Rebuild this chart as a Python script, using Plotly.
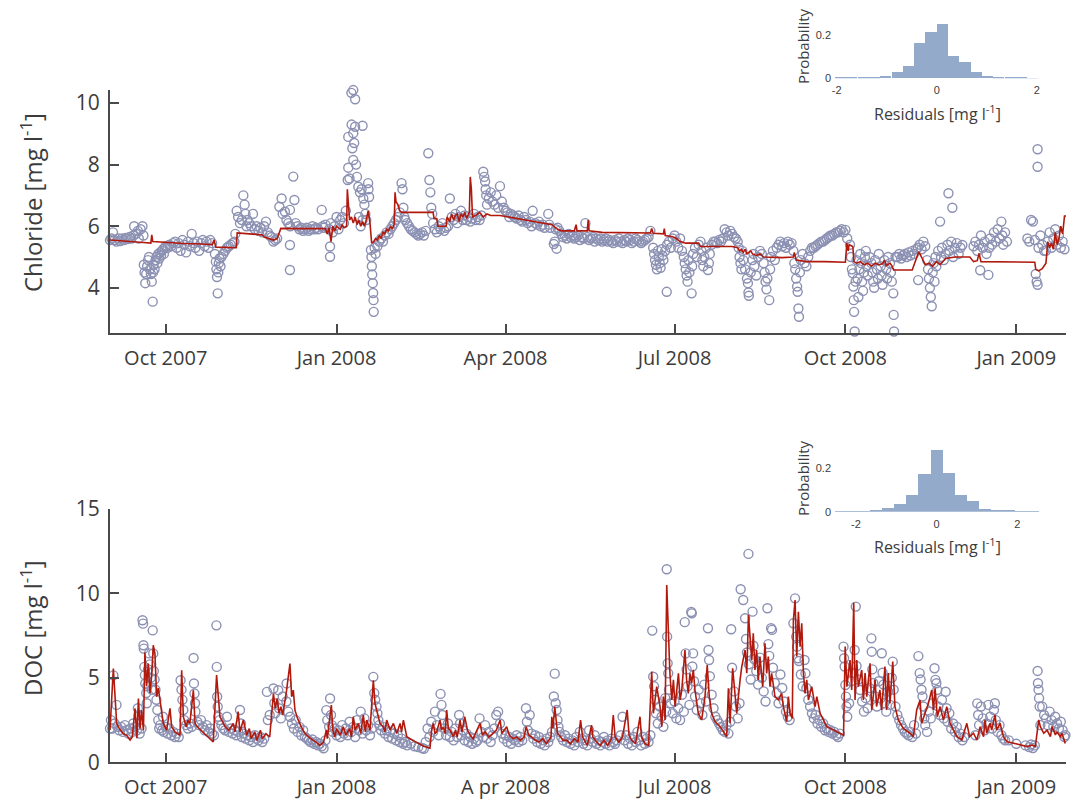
import pandas as pd
import plotly.graph_objects as go

# ---------------- data (day offset from 2007-09-01, value) ----------------
START = "2007-09-01"

cl_obs = [(0,5.55),(0.8,5.6),(1.6,5.8),(2.5,5.55),(3.5,5.5),(4.5,5.6),(5.5,5.52),(6.5,5.6),(7.5,5.55),(8.5,5.62),(9.5,5.58),(10.5,5.65),(11.5,5.6),(12.5,5.7),(13,6.0),(14,5.75),(15,5.85),(15.5,5.6),(16.5,5.9),(17.5,6.0),(18,5.7),
(18.2,4.75),(18.6,4.5),(19,4.15),(19.5,4.45),(20,4.7),(20.5,4.9),(21,5.0),(21.5,4.6),(22,4.45),(22.5,4.2),(23,3.55),(23.2,4.5),(23.5,4.75),(24,4.6),(24.5,4.9),(25,5.0),(25.5,4.8),(26,5.1),(26.5,4.95),(27,5.15),(27.5,5.05),(28,5.2),(28.5,5.25),(29,5.1),(29.5,5.3),(30,5.35),(31,5.3),(32,5.4),(33,5.35),(34,5.45),
(35,5.5),(36,5.3),(37,5.45),(38,5.2),(39,5.55),(40,5.4),(41,5.15),(42,5.5),(43,5.35),(44,5.75),(45,5.45),(46,5.3),(47,5.5),(48,5.2),(49,5.45),(50,5.55),(51,5.35),(52,5.5),(53,5.3),(54,5.55),(55,5.45),
(56.5,5.1),(57,4.85),(57.3,4.6),(57.6,4.35),(58,3.82),(58.3,4.5),(58.6,4.8),(59,4.95),(59.5,4.7),(60,5.0),(61,5.1),(62,5.2),(63,5.3),(64,5.35),(65,5.4),(66,5.45),(67,5.5),(67.5,5.75),
(68.2,6.5),(69,6.3),(70,6.1),(71,6.2),(71.8,7.0),(72.5,6.7),(73,6.4),(73.5,6.0),(74,6.2),(75,6.1),
(76,6.0),(77,6.4),(78,5.9),(79,6.0),(80,5.85),(81,5.95),(82,5.8),(83,6.0),(84,6.15),(85,5.8),(86,5.7),(87,5.65),(88,5.5),(89,5.55),(90,5.6),
(91.2,6.63),(92.4,6.9),(93,6.4),(94.2,6.47),(95,6.2),(96,6.1),(96.9,6.53),(97,6.0),(96.9,5.39),(96.9,4.58),(98.7,7.61),(99.3,6.85),(100,6.1),
(101,6.0),(102,5.9),(103,5.95),(104,5.85),(105,5.9),(106,5.95),(107,5.85),(108,5.9),(109,6.0),(110,5.9),(111,5.95),(112,5.9),(114,6.53),(114.5,6.0),(115,5.95),(116,6.05),(118.5,5.34),(118.5,5.01),(118,5.9),(119,6.1),(120,5.8),(121,6.0),(122,6.3),(123,5.9),(124,6.2),(125,6.3),(126,6.1),
(127,6.5),(128,7.5),(128.3,7.9),(128.3,8.9),(129,7.55),(130,10.33),(130.1,9.3),(130.5,8.53),(131,10.42),(131,9.02),(131,8.15),(131.5,8.7),(132,10.12),(132,9.23),(132.5,8.0),(133,7.6),(133.7,7.28),(134.6,7.1),(135.5,7.2),(136,9.26),(136.4,6.9),(137,6.7),(137.5,6.4),(138,6.2),(139,7.4),(139.2,7.2),(139.5,6.95),(134,6.3),(135,6.0),(136,6.2),
(140.5,5.23),(140.8,5.0),(141,4.7),(141.2,4.43),(141.5,4.15),(141.7,3.83),(141.9,3.6),(142,3.22),(142.5,5.3),(143,5.1),
(144,5.35),(145,5.5),(146,5.6),(147,5.5),(148,5.7),(149,5.8),(150,5.75),(151,5.9),(152,6.0),(153,6.1),(154,6.2),(155,6.3),(156,6.45),(157,7.4),(157.5,7.2),(158,6.6),(158.5,6.3),
(159,6.2),(160,6.1),(161,6.0),(162,5.9),(163,5.85),(164,5.8),(165,5.75),(166,5.7),(167,5.75),(168,5.8),(169,5.7),(170,5.85),
(171.4,8.37),(172,7.5),(172.5,7.1),(173,6.6),(173.5,6.4),(174,6.1),(175,5.9),
(176,5.8),(177,6.0),(178,5.9),(179,6.1),(180,5.85),(181,5.95),(182,6.0),(183,6.9),(184,6.3),(185,6.2),(186,6.4),(187,6.1),(188,6.3),(189,6.5),(190,6.2),(191,6.35),(192,6.2),(193,6.3),(194,6.15),(195,6.25),(196,6.4),(197,6.2),(198,6.3),(199,6.2),(200,6.35),
(201,7.77),(201.5,7.6),(202,7.45),(202.3,7.2),(202.6,7.0),(203,6.7),(204,6.9),(205,7.1),(206,6.8),(207,6.7),(208,7.0),(209,6.6),(210,7.3),(211,6.8),(212,6.6),(213,6.5),
(214,6.45),(215,6.3),(216,6.4),(217,6.35),(218,6.3),(219,6.25),(220,6.35),(221,6.2),(222,6.15),(223,6.3),(224,6.2),(225,6.1),(226,6.15),(227,6.0),(227.6,6.5),(229,6.1),(230,6.05),(231,6.15),(232,6.0),(233,6.05),(234,5.95),(236,6.4),(236.5,6.05),(237,5.95),(239,5.42),(240.5,5.27),(239.5,5.5),(240,5.9),(241,5.95),(242,5.85),
(243,5.75),(244,5.65),(245,5.7),(246,5.6),(247,5.75),(248,5.65),(249,5.7),(250,5.6),(251,5.65),(252,5.7),(253,5.55),(254,5.65),(255,5.6),(256,6.1),(257,5.65),(258,5.55),(259,5.6),(260,5.65),(261,5.5),(262,5.6),(263,5.55),(264,5.6),(265,5.5),(266,5.55),(267,5.6),(268,5.5),(269,5.55),(270,5.5),(271,5.45),(272,5.55),(273,5.5),(274,5.6),(275,5.5),(276,5.45),(277,5.55),(278,5.5),(279,5.6),(280,5.55),(281,5.45),(282,5.5),(283,5.6),(284,5.55),(285,5.5),(286,5.45),(287,5.5),(288,5.55),(289,5.6),(290,5.65),(291,5.85),
(292.5,5.3),(293,5.1),(293.5,4.9),(294,4.75),(294.5,4.6),(295,5.2),(295.5,5.0),(296,4.8),(296.5,4.65),(297,5.25),(297.5,5.05),(298,4.9),(299,5.2),(299.8,3.87),(300,5.4),(301,5.5),(302,5.3),(303,5.6),
(304,5.7),(305,5.5),(306,5.3),(307,5.6),(308,5.2),(309,5.0),(309.5,4.8),(310,4.6),(310.5,4.4),(311,4.2),(311.5,4.9),(312,4.5),(313.2,3.82),(313.5,4.7),(314,5.1),(315,5.3),(316,5.0),(317,5.4),
(318,5.5),(318.5,5.2),(319,4.9),(319.5,4.7),(320,5.0),(321,5.3),(322,4.58),(322.5,4.8),(323,5.1),(324,5.4),(325,5.5),
(326,5.5),(327,5.45),(328,5.55),(329,5.5),(330,5.6),(331,5.9),(332,5.8),(333,5.7),(334,5.85),(335,5.75),(336,5.65),(337,5.6),(338,5.5),
(338.5,5.3),(339,5.0),(339.5,4.8),(340,4.6),(340.5,5.2),(341,4.9),(342,4.6),(343,4.3),(343.5,4.15),(343.8,3.85),(344,3.74),(345,4.5),(346,4.9),(346.5,5.1),(347,4.7),(348,4.4),(349,5.0),(350,5.2),
(351,5.1),(352,4.8),(352.5,4.5),(353,4.2),(353.5,3.95),(354,4.3),(355,3.6),(355.5,4.6),(356,5.0),(357,5.2),(358,4.9),(359,5.3),
(360,5.4),(361,5.5),(362,5.35),(363,5.45),(364,5.3),(365,5.5),(366,5.4),(367,5.45),(368,5.2),
(368.5,4.8),(369,4.6),(369.5,4.3),(370,4.04),(370.3,3.87),(370.7,3.33),(371,3.06),(371.5,4.5),(372,4.9),(373,5.1),(374,4.8),(375,4.7),(376,5.0),(377,5.2),(378,5.3),
(379,5.3),(380,5.35),(381,5.4),(382,5.45),(383,5.5),(384,5.5),(385,5.55),(386,5.6),(387,5.65),(388,5.7),(389,5.7),(390,5.75),(391,5.8),(392,5.8),(393,5.85),(394,5.9),(395,5.8),(396,5.88),(397,5.6),
(398.5,5.4),(399,5.0),(399.5,4.6),(400,4.47),(400.3,4.04),(400.5,3.6),(400.7,3.22),(401,2.58),(401.5,4.2),(402,4.9),(402.5,4.3),(403,3.7),(403.5,4.6),(404,5.1),
(404.5,4.8),(405,4.2),(405.5,3.9),(406,4.5),(406.5,5.0),(407,5.2),(407.5,4.7),(408,4.4),(409,5.0),
(410,4.8),(410.5,4.5),(411,4.2),(411.5,4.0),(412,4.9),(413,4.6),(413.5,4.3),(414,5.1),(415,4.7),(415.5,4.4),(416,4.1),(417,4.9),(418,4.6),(418.5,4.3),(419,5.0),(420,4.8),(420.5,4.5),(421,4.2),(421.8,3.82),(422,3.12),(422.2,2.58),(423,5.0),
(424,5.0),(425,5.1),(426,4.95),(427,5.05),(428,5.1),(429,5.0),(430,5.15),(431,5.05),(432,5.2),(433,5.1),(434,5.25),
(435,5.3),(435.2,4.25),(436,5.4),(437,5.25),(438,5.5),(439,5.35),
(440,4.9),(440.5,4.6),(441,4.3),(441.5,4.0),(442,3.7),(442.5,3.4),(443,4.5),(443.5,4.8),(444,4.2),(444.5,5.0),(445,4.7),
(446,5.2),(447,6.15),(447.5,5.0),(448,5.3),(449,4.9),(450,5.1),(451,5.4),(451.5,7.07),(452,5.2),(453,5.5),(453.6,6.6),(454,5.0),(455,5.3),(456,5.45),(457,5.1),(458,5.3),(459,5.39),
(465,5.35),(466,5.5),(467,5.2),(468,5.4),(468.6,4.57),(469,5.7),(470,5.3),(471,5.5),(472,5.1),(473,4.42),(473.5,5.3),(474,5.6),(475,5.4),(476,5.8),(477,5.5),(478,5.9),(479,5.6),(480,6.15),(480.5,5.7),(481,5.4),(482,5.8),(483,5.5),
(494,5.6),(495,5.5),(496,6.2),(497,6.15),(498,5.55),(498.5,4.45),(499,4.2),(499.5,4.1),(499.5,8.5),(499.5,7.93),(500,5.3),(501,5.7),(502,5.4),(503,5.2),
(504,5.2),(505,5.5),(506,5.8),(507,5.3),(508,5.6),(509,5.9),(510,5.4),(511,5.7),(512,5.3),(513,5.5),(514,5.25)]

cl_mod = [(0,5.55),(16,5.5),(18,5.47),(22,5.45),(22.5,5.72),(23,5.5),(30,5.47),(40,5.44),(50,5.42),(55,5.4),(56,5.55),(57,5.32),(68,5.3),(68.5,5.78),(75,5.75),(82,5.72),(83,5.65),(88,5.55),(90,5.6),(92,5.93),(100,5.92),(110,5.92),(116,5.92),(117,5.75),(118,5.95),(119,5.5),(120,6.0),(121,5.85),(122,6.0),(124,5.9),(125,6.05),(126,5.95),(127.4,6.0),(127.8,7.2),(128.4,6.5),(129,6.2),(130,6.3),(131,6.1),(132,6.3),(133,6.05),(134,6.2),(135,6.0),(136,6.15),(137,6.0),(138,6.2),(139,6.5),(140,6.1),(140.9,5.45),(142,5.5),(143,5.6),(144,5.55),(145,5.7),(146,5.6),(147,5.8),(148,5.75),(149,5.9),(150,5.85),(151,6.0),(152,5.9),(153,6.05),(153.5,7.1),(154,6.8),(155,6.7),(156,6.5),(157,6.45),(174,6.45),(174.5,6.25),(176,6.25),(176.5,6.0),(181,6.0),(181.5,6.3),(183,6.15),(184,6.4),(185,6.2),(186,6.35),(187,6.4),(188,6.15),(189,6.4),(190,6.3),(191,6.45),(192,6.25),(193.5,6.45),(194,7.6),(194.6,7.2),(195.2,6.3),(197,6.35),(199,6.45),(201,6.3),(203,6.4),(205,6.35),(210,6.35),(215,6.3),(220,6.25),(225,6.2),(230,6.15),(235,6.1),(238,6.05),(241,5.9),(243,5.85),(250,5.85),(251,6.05),(251.5,5.85),(257,5.85),(257.5,6.2),(258,5.85),(265,5.8),(275,5.8),(291,5.78),(291.7,5.93),(292.5,5.77),(298,5.75),(298.5,5.92),(299,5.7),(303,5.66),(305,5.6),(307,5.5),(310,5.45),(317,5.45),(318,5.34),(335,5.34),(338,5.3),(339,5.2),(340,5.25),(341,5.15),(342,5.25),(343,5.1),(345,5.2),(346,5.1),(348,5.05),(350,5.1),(352,5.0),(362,4.98),(368,5.0),(368.5,5.15),(369.5,4.9),(375,4.85),(385,4.85),(396,4.83),(396.8,5.45),(397.5,5.2),(398,5.4),(400,5.34),(400.6,4.85),(402,4.8),(404,4.85),(406,4.75),(408,4.8),(410,4.7),(412,4.8),(414,4.75),(416,4.78),(417,4.9),(418,4.72),(420,4.8),(421,4.72),(422,4.58),(432,4.58),(434,4.9),(435.5,5.17),(437,5.0),(439,4.75),(441,4.8),(443,4.7),(445,4.85),(447,4.75),(450,4.95),(455,5.0),(463,5.0),(465,4.85),(467,4.88),(468,5.12),(469,4.85),(480,4.85),(498,4.83),(498.5,4.6),(500,4.55),(502,4.62),(504,4.8),(505,5.5),(506,5.3),(507,5.45),(508,5.25),(509,5.8),(510,5.4),(511,5.6),(512,6.0),(513,5.75),(514,6.33),(515,6.33)]

doc_obs = [(0,2.0),(0.5,2.5),(1.2,2.0),(1.8,5.15),(2.5,2.3),(3.5,3.4),(4,2.1),(5,1.9),(6,2.1),(7,1.8),(8,2.2),(9,1.9),(10,1.7),(11,2.0),(12,1.8),(12.5,2.3),(13.5,2.1),(14.5,1.9),(15,3.2),(15.5,2.8),(16,1.7),(17,2.0),
(17.5,8.41),(17.8,8.21),(18,6.93),(18.2,6.73),(18.5,5.65),(18.8,5.16),(19,4.67),(19.5,4.1),(19.8,3.5),(20,4.5),(20.5,5.5),(21,6.45),(21.5,5.8),(22,5.0),(22.5,4.3),(23,7.81),(23.3,6.45),(23.6,5.4),(24,4.9),(24.5,4.3),(25,3.7),(25.5,3.1),(26,2.5),(26.5,2.0),
(27,2.2),(28,1.9),(28.5,2.7),(29,1.8),(30,2.1),(31,1.7),(32,2.0),(33,1.6),(34,1.8),(35,1.5),(36,1.7),(37,1.5),
(38,4.86),(38.5,4.3),(39,3.7),(39.5,3.1),(40,2.5),(41,2.2),(42,2.0),(43,2.3),(44,2.1),(45,6.18),(45.2,4.67),(45.5,4.07),(45.8,3.5),(46,3.0),(47,2.4),(48,2.2),(49,2.5),(50,2.1),(51,1.9),(52,2.2),(53,1.8),(54,2.0),(55,1.7),(56,1.6),
(57.3,8.11),(57.5,5.65),(57.7,3.88),(58,3.29),(58.3,2.7),(59,2.5),(60,2.2),(61,2.0),(62,1.9),(63,2.7),(64,1.8),(65,2.0),(66,1.7),(67,1.9),(68,1.6),(69,1.8),(70,3.1),(70.5,2.3),(71,1.5),(72,1.7),(73,1.4),(74,1.6),(75,1.3),(76,1.5),(77,1.2),(78,1.6),(79,1.4),(80,1.3),(81,1.5),(82,1.2),(83,1.4),
(84.5,4.17),(85,2.5),(86,2.8),(88,4.37),(88.5,3.5),(89,2.9),(90.6,4.27),(91,3.2),(92,2.6),(93,3.9),(95.1,4.67),(95,3.6),(96,3.0),(97,2.7),(98,2.3),(99,2.0),(100,2.5),(101,1.8),(102,2.1),(103,1.6),(104,1.9),(105,1.5),(106,1.4),(107,1.3),(108,1.2),(109,1.35),(110,1.1),(111,1.2),(112,1.0),(113,1.1),(114,0.95),(115,0.83),(116,1.3),(116.5,3.09),(117,2.5),(118,2.1),(118.5,3.78),(119,2.8),(119.5,2.2),(120,1.8),(121,2.0),(122,1.6),(123,1.9),(124,1.5),(125,2.2),(126,1.7),(127,2.0),(128,1.6),(129,2.4),(130,1.8),(131,2.1),(132,1.5),(133,2.5),(134,1.9),(135,3.0),
(136,1.7),(137,2.6),(138,1.9),(139,2.2),(140,1.6),(141,2.0),
(141.8,5.06),(142.3,4.1),(142.8,3.7),(143.5,3.3),(144,2.9),(144.5,2.5),(145,2.2),(146,1.9),(147,2.1),(148,1.7),(149,1.9),(150,1.5),(151,1.8),(152,1.4),(153,1.7),(154,1.3),(155,1.6),(156,1.2),(157,1.4),(158,1.1),(159,1.2),(160,1.0),(162,1.1),(164,0.95),(166,0.9),(168,0.85),(169,0.8),
(170,1.2),(171,2.0),(172,1.5),(173,2.4),(174,1.8),(175,3.0),(176,2.2),(177,1.6),(178,4.05),(178.5,3.4),(179,2.8),(180,2.0),(181,1.6),(182,2.3),(183,1.5),
(184,1.8),(185,1.3),(186,2.0),(187,1.5),(188,2.8),(188.5,2.3),(189,1.6),(190,1.9),(191,1.3),(192,1.7),(193,1.2),(194,1.5),(195,1.1),(196,1.4),(197,1.2),
(198,1.3),(199,2.6),(200,1.8),(201,1.5),(202,2.2),(203,1.4),(204,1.8),(205,1.2),(206,1.6),(207,2.0),(208,2.8),(209,3.0),(210,2.3),(211,1.7),(212,1.4),
(213,1.6),(214,1.2),(215,1.5),(216,1.1),(217,1.4),(218,1.3),(219,1.6),(220,1.2),(221,1.5),(222,1.3),
(224,3.2),(224.5,2.4),(225,1.9),(226,2.8),(227,1.7),(228,1.4),(229,1.6),(230,1.2),(231,1.5),(232,1.1),(233,1.3),(234,1.0),(235,1.4),(236,1.2),(237,1.5),(238,1.8),
(239,3.9),(239.5,5.25),(240,3.5),(240.5,3.1),(241,2.5),(241.5,2.1),(242,1.8),
(243,1.5),(244,1.3),(245,1.6),(246,1.2),(247,1.4),(248,1.1),(249,1.3),(250,1.0),(251,1.5),(252,1.2),(253,1.8),(254,1.4),(255,1.1),(256,1.3),(257,1.0),(258,1.9),(259,1.4),(260,1.2),(261,1.6),(262,1.1),(263,1.3),(264,1.0),(265,1.2),(266,1.5),(267,1.1),(268,1.3),(269,1.0),(270,1.4),(271,1.2),(272,1.1),(273,1.3),(275,1.6),(276,2.7),
(277,1.3),(278,1.6),(279,1.1),(280,1.4),(281,1.0),(282,1.5),(283,1.2),(284,1.8),(285,1.3),(286,1.0),(287,1.5),(288,1.1),(289,1.4),(290,1.2),(291,1.6),
(292,7.8),(292.5,5.07),(293,4.5),(293.5,3.7),(294,2.9),(295,2.3),(296,3.3),(297,2.7),(298,2.1),(299,3.8),(299.5,3.0),
(299.8,11.43),(300,7.44),(300.3,5.86),(300.6,5.27),(301,4.3),(302,3.5),(303,2.9),(304,3.6),(305,2.6),(306,3.2),(307,2.5),(308,4.0),(309,3.0),(309.5,8.3),(310,6.45),(310.5,5.5),(311,4.5),(312,3.4),(313,8.9),(313.3,8.82),(313.6,5.67),(314,6.45),(314.5,4.8),(315,3.9),(316,3.1),(317,4.3),(318,3.5),(319,2.8),(320,4.6),(321,3.6),(322,7.94),(322.3,6.65),(322.6,6.06),(323,5.1),(324,4.0),(325,3.2),(326,2.7),(327,2.5),(328,2.3),(329,2.1),(330,1.9),(331,1.8),(332,2.2),(333,1.7),(334,2.4),(334.5,7.88),(335,5.6),(336,4.2),(337,3.3),(338,2.6),(339,3.5),
(339.6,10.25),(341,9.61),(342,8.53),(342.5,7.3),(343,6.5),(343.8,12.34),(344,5.8),(345,4.9),(346,8.92),(346.5,6.9),(347,6.1),(348,5.4),(349,4.6),(350,6.2),(351,5.0),(352,4.2),(353,3.6),(354,9.12),(354.5,7.0),(355,6.3),(356,7.94),(356.5,7.84),(357,5.6),(358,4.7),(359,4.1),(360,3.5),(361,5.2),(362,4.4),(363,3.6),(364,3.0),(365,2.7),(366,2.5),
(368,8.23),(368.9,9.71),(369.5,7.44),(370,6.85),(370.5,6.16),(371,6.0),(372,5.2),(373,4.5),(374,6.06),(374.5,5.27),(375,4.4),(376,3.7),(377,3.3),(378,2.9),(379,2.6),(380,2.8),(381,2.3),(382,2.5),(383,2.1),(384,2.3),(385,1.9),(386,2.0),(387,1.8),(388,1.9),(389,1.7),(390,1.8),(391,1.6),(392,1.5),(393,1.7),
(395,6.85),(395.3,6.16),(395.6,5.67),(396,4.58),(396.3,3.89),(396.6,3.3),(397,2.7),(398,3.5),(399,4.8),(400,5.3),(401,6.65),(401.6,9.22),(402,5.7),(403,4.9),(404,4.28),(405,3.6),(406,3.0),
(407,3.8),(408,3.2),(409,4.4),(410,7.34),(410.2,6.55),(410.5,5.5),(411,4.7),(412,3.9),(413,3.3),(414,4.8),(415,3.8),(415.6,6.46),(416,5.3),(416.5,4.6),(417,3.5),(418,3.0),(419,4.2),(420,3.4),(421,5.0),(421.5,5.96),(422,4.3),(423,3.3),(424,2.8),(425,2.5),(426,2.2),(427,2.0),(428,1.8),(429,1.7),(430,1.6),(431,1.8),(432,1.5),(433,2.2),(434,1.7),
(435.3,6.29),(436,5.28),(436.5,4.9),(437,4.3),(437.5,3.9),(438,3.3),(438.5,2.6),(439,2.2),(440,1.8),(441,3.0),(442,2.6),(443,3.5),(444,5.57),(444.5,4.88),(445,4.68),(445.5,4.28),(446,3.3),(447,2.8),(448,3.7),(449,2.6),(450,4.18),(450.5,3.2),(451,2.4),(452,2.9),(453,2.0),(454,2.3),(455,1.8),(456,2.1),(457,1.5),(458,1.7),(459,1.3),(460,1.5),
(466,1.6),(467,3.49),(467.5,2.8),(468,2.2),(469,3.3),(470,2.6),(471,1.9),(472,2.3),(473,3.4),(474,2.7),(475,2.0),(476,3.1),(476.5,3.5),(477,2.5),(478,1.8),(479,2.2),(480,1.6),(481,1.4),(482,1.3),
(484,1.3),(488,1.1),(493,1.0),(495,0.9),(496,1.05),(497,0.85),(498,1.0),
(499.5,5.41),(499.7,4.68),(500,4.3),(500.3,3.8),(500.6,3.3),(501,2.2),(502,3.3),(503,2.8),(504,2.6),(505,2.2),(506,3.0),(507,2.5),(508,2.1),(509,2.7),(510,2.3),(511,2.0),(512,2.4),(513,1.9),(514,1.5),(514.5,1.6)]

doc_mod = [(0,1.91),(1.8,5.55),(3.6,2.3),(5,2.0),(7,1.7),(9,1.6),(10.8,1.32),(12,1.5),(13.5,3.19),(14.5,1.42),(15.3,3.78),(16.2,2.01),(17,3.1),(18,1.9),(18.8,6.5),(19.7,4.5),(20.6,5.85),(21.5,4.1),(22.4,5.1),(23.3,6.93),(24.2,6.44),(25.1,3.88),(26,4.4),(27,3.5),(28.7,2.3),(30.5,1.91),(32.3,3.19),(33.2,2.1),(35,1.8),(37.7,1.6),(38.6,5.45),(39.5,2.7),(41,2.1),(41.9,2.5),(43,2.3),(44.9,4.27),(45.8,2.3),(47,2.1),(50,1.8),(53,1.5),(55.6,1.2),(57.4,5.16),(59.2,2.7),(62,2.1),(64,1.9),(66.4,2.3),(67.3,1.8),(69,3.0),(70,1.8),(71.8,2.5),(73.6,1.6),(75,2.0),(76,1.4),(78,1.8),(79,1.3),(81,1.9),(82,1.4),(84,1.7),(86,1.5),(88,4.07),(89,3.2),(90,3.78),(91,2.9),(92,3.29),(93,2.8),(95.1,4.27),(96.9,5.85),(97.8,3.88),(98.7,4.27),(99.6,3.09),(101,2.6),(103,2.1),(105,1.7),(108,1.4),(111,1.2),(113,1.0),(115,1.2),(116.5,1.91),(117,1.4),(119.2,3.39),(120,1.91),(121,1.5),(122,2.0),(124,1.6),(125.6,2.1),(127,1.6),(129,2.0),(130,1.5),(131,2.7),(132,1.9),(133.7,2.3),(135,1.7),(136.4,2.8),(137.5,1.8),(138.3,2.5),(140,1.9),(141.8,4.86),(142.7,3.48),(143.6,3.09),(144.5,2.6),(145.4,2.3),(147.2,2.1),(148,1.8),(149,2.5),(150.8,1.91),(152.6,2.3),(154.4,1.71),(156.2,2.3),(157,1.8),(158,2.5),(159.8,1.52),(163,1.3),(166,1.1),(169,0.95),(172.3,0.83),(173.2,1.91),(174.1,2.3),(175,1.7),(175.9,1.8),(177.7,2.5),(178.5,1.9),(179.5,2.1),(180.5,1.7),(181.3,3.09),(182.2,2.0),(183.1,1.91),(184.9,1.52),(186,1.9),(187,1.5),(188.5,2.5),(189.5,1.8),(191,2.7),(192.5,1.9),(194,1.6),(195.5,1.4),(197,1.8),(199.3,2.3),(200.5,1.6),(202,1.8),(204,1.5),(206,1.7),(208,1.9),(210.1,2.5),(211,1.7),(213.6,2.1),(215,1.6),(217,1.4),(219,1.5),(221,1.3),(223,1.5),(224.1,2.11),(225.5,1.6),(227,1.5),(229,1.3),(231,1.2),(233,1.4),(235,1.1),(237.5,1.5),(237.9,2.7),(238.5,2.0),(239.5,3.29),(240.3,2.5),(241,1.7),(242,1.6),(244,1.3),(246,1.3),(248,1.1),(250,1.4),(252,1.2),(253.4,2.5),(254.5,1.5),(256,1.2),(257,1.0),(259.3,2.2),(260,1.5),(262,1.2),(264,1.0),(266,1.3),(268,1.0),(270,1.4),(271,2.8),(272,1.5),(274,1.2),(276,1.5),(278.5,3.1),(279.5,1.6),(281,1.3),(283,1.1),(285.4,2.7),(286.2,1.5),(288,1.1),(290,1.0),(291.7,5.37),(292.6,2.9),(294.4,4.48),(296.2,3.3),(297.1,2.11),(298,3.89),(298.9,2.51),(299.8,10.5),(300.6,7.44),(301.5,5.27),(302.5,3.69),(303.4,4.88),(304.3,3.3),(306.1,5.27),(307,3.69),(307.9,4.28),(309.6,6.65),(310.5,4.88),(311.4,4.08),(312.3,5.27),(313.2,4.68),(314.1,5.47),(315,4.28),(316.8,2.9),(318.6,2.51),(320.4,3.89),(321.6,5.76),(322.7,3.89),(324,2.9),(325.8,2.41),(328.5,2.11),(331.2,1.72),(332.1,1.52),(333,4.38),(333.9,2.31),(335.3,5.57),(336.6,3.69),(337.5,2.9),(339.3,4.88),(340.2,5.67),(342,6.65),(342.9,5.27),(343.8,8.73),(344.7,7.25),(345.6,6.06),(346.4,7.64),(347.3,5.47),(348.2,6.65),(349.1,4.88),(350,6.26),(351.5,4.48),(352.7,7.05),(353.6,5.27),(354.5,6.26),(355.4,4.48),(356.3,5.27),(358.1,3.89),(359.9,3.69),(361.7,4.08),(362.6,3.3),(364.4,2.41),(365.3,3.89),(366.2,2.9),(367.4,2.6),(368,8.43),(368.9,9.61),(369.8,6.26),(370.7,8.92),(371.6,6.85),(372.5,8.23),(373.4,5.27),(374.3,4.08),(375.2,4.88),(376.1,3.69),(377.9,4.48),(379.7,3.3),(380.6,3.89),(382.4,2.9),(384.2,2.51),(386,2.11),(389.6,1.91),(393.2,1.72),(395,1.6),(395.9,6.85),(396.8,4.48),(398.5,6.06),(399.4,4.28),(400.5,9.45),(401.2,3.69),(402.1,6.06),(403,4.48),(404.8,5.47),(405.7,3.69),(406.6,5.28),(407.5,3.89),(409.3,5.86),(410.2,3.1),(412,4.88),(412.8,3.3),(414.6,4.28),(415.5,3.1),(417.3,5.67),(418.2,3.1),(419.1,5.28),(420,3.49),(421.5,5.96),(422.7,3.3),(424.5,2.51),(427.2,2.01),(430.8,1.72),(432.6,1.52),(434.4,3.1),(436.2,3.69),(437.1,2.31),(438.9,2.9),(440.7,3.49),(442.5,4.28),(443.4,3.1),(444.3,4.38),(445.5,2.7),(447,3.3),(448.8,2.51),(450.6,3.3),(452.4,2.31),(454.2,1.91),(456,1.52),(458.7,1.32),(461.4,2.31),(462.9,1.52),(465,1.72),(466.8,1.32),(468.6,2.11),(470.4,1.52),(471.2,2.51),(472.1,1.72),(473.9,2.31),(474.8,1.91),(476.6,2.8),(477.5,1.91),(479.3,2.31),(481.1,1.52),(483,1.22),(488.4,1.08),(493.8,0.93),(496.5,1.02),(498.3,0.93),(500.1,2.51),(501,2.11),(502.8,1.72),(504.6,1.91),(506.4,1.52),(507.3,2.11),(509.1,1.62),(509.9,1.81),(511.7,1.52),(512.6,1.72),(514.4,1.12)]

# residual histograms (bin centre, probability)
cl_res_center = [-1.92,-1.70,-1.47,-1.24,-1.02,-0.79,-0.565,-0.339,-0.113,0.113,0.339,0.565,0.79,1.02,1.24,1.47,1.70,1.92]
cl_res_prob   = [0.002,0.002,0.004,0.005,0.010,0.030,0.056,0.163,0.214,0.249,0.104,0.076,0.030,0.012,0.005,0.003,0.002,0.001]
cl_res_width = 0.226
doc_res_center = [-2.4,-2.1,-1.8,-1.5,-1.2,-0.9,-0.6,-0.3,0.0,0.3,0.6,0.9,1.2,1.5,1.8,2.1,2.4]
doc_res_prob   = [0.001,0.002,0.004,0.008,0.020,0.038,0.079,0.174,0.283,0.179,0.077,0.050,0.015,0.011,0.005,0.003,0.002]
doc_res_width = 0.3

tick_dates = ["2007-10-01","2008-01-01","2008-04-01","2008-07-01","2008-10-01","2009-01-01"]
tick_text_top = ["Oct 2007","Jan 2008","Apr 2008","Jul 2008","Oct 2008","Jan 2009"]
tick_text_bot = ["Oct 2007","Jan 2008","A pr 2008","Jul 2008","Oct 2008","Jan 2009"]

# ---------------- helpers ----------------
base = pd.Timestamp(START)
def dates(pairs):
    return [base + pd.Timedelta(days=p[0]) for p in pairs]
def vals(pairs):
    return [p[1] for p in pairs]

OBS_COLOR = "#8c91b3"
MOD_COLOR = "#b1190d"
BAR_COLOR = "#93aacb"
AX_COLOR = "#4a4a4a"
TXT = "#3c3c3c"
FONT = "Open Sans"

W, H = 1080, 799
def px_x(a, b):
    return [a / W, b / W]
def px_y(top, bottom):
    return [1 - bottom / H, 1 - top / H]

fig = go.Figure()

marker = dict(symbol="circle-open", size=9, color=OBS_COLOR, line=dict(width=1.4, color=OBS_COLOR))

fig.add_trace(go.Scatter(x=dates(cl_obs), y=vals(cl_obs), mode="markers", marker=marker,
                         xaxis="x", yaxis="y", cliponaxis=False, showlegend=False))
fig.add_trace(go.Scatter(x=dates(cl_mod), y=vals(cl_mod), mode="lines", line=dict(color=MOD_COLOR, width=1.6),
                         xaxis="x", yaxis="y", showlegend=False))
fig.add_trace(go.Scatter(x=dates(doc_obs), y=vals(doc_obs), mode="markers", marker=marker,
                         xaxis="x2", yaxis="y2", cliponaxis=False, showlegend=False))
fig.add_trace(go.Scatter(x=dates(doc_mod), y=vals(doc_mod), mode="lines", line=dict(color=MOD_COLOR, width=1.6),
                         xaxis="x2", yaxis="y2", showlegend=False))
fig.add_trace(go.Bar(x=cl_res_center, y=cl_res_prob, width=cl_res_width, marker=dict(color=BAR_COLOR, line=dict(width=0)),
                     xaxis="x3", yaxis="y3", showlegend=False))
fig.add_trace(go.Bar(x=doc_res_center, y=doc_res_prob, width=doc_res_width, marker=dict(color=BAR_COLOR, line=dict(width=0)),
                     xaxis="x4", yaxis="y4", showlegend=False))

x_start = base
x_end = base + pd.Timedelta(days=514.8)

main_x = dict(range=[x_start, x_end], tickmode="array", tickvals=tick_dates, automargin=False,
              showline=True, linecolor=AX_COLOR, linewidth=2, ticks="inside", ticklen=9, tickwidth=1.6,
              tickcolor=AX_COLOR, showgrid=False, zeroline=False,
              tickfont=dict(family=FONT, size=20, color=TXT), ticklabelstandoff=6)
main_y = dict(showline=True, linecolor=AX_COLOR, linewidth=2, ticks="inside", ticklen=9, tickwidth=1.6,
              tickcolor=AX_COLOR, showgrid=False, zeroline=False, automargin=False,
              tickfont=dict(family=FONT, size=21, color=TXT), ticklabelstandoff=4)

inset_x = dict(showline=False, ticks="", showgrid=False, zeroline=False, tickmode="array", automargin=False,
               tickvals=[-2, 0, 2], ticktext=["-2", "0", "2"], ticklabelstandoff=4,
               tickfont=dict(family="Liberation Sans", size=11, color=TXT))
inset_y = dict(showline=False, ticks="", showgrid=False, zeroline=False, tickmode="array", automargin=False,
               tickvals=[0, 0.2], ticktext=["0", "0.2"], range=[0, 0.3], ticklabelstandoff=3,
               tickfont=dict(family="Liberation Sans", size=11, color=TXT))

fig.update_layout(
    width=W, height=H, margin=dict(l=0, r=0, t=0, b=0, autoexpand=False),
    paper_bgcolor="white", plot_bgcolor="rgba(0,0,0,0)", bargap=0,
    xaxis=dict(main_x, domain=px_x(110, 1066), anchor="y", ticktext=tick_text_top),
    yaxis=dict(main_y, domain=px_y(90, 333), anchor="x", range=[2.533, 10.422],
               tickvals=[4, 6, 8, 10]),
    xaxis2=dict(main_x, domain=px_x(110, 1066), anchor="y2", ticktext=tick_text_bot),
    yaxis2=dict(main_y, domain=px_y(509, 762.3), anchor="x2", range=[0, 15],
                tickvals=[0, 5, 10, 15]),
    xaxis3=dict(inset_x, domain=px_x(835, 1041), anchor="y3", range=[-2.034, 2.086]),
    yaxis3=dict(inset_y, domain=px_y(13, 78.3), anchor="x3"),
    xaxis4=dict(inset_x, domain=px_x(835, 1041), anchor="y4", range=[-2.52, 2.59]),
    yaxis4=dict(inset_y, domain=px_y(445.7, 511.7), anchor="x4"),
)

def ann(text, xp, yp, size, angle=0, family=FONT):
    fig.add_annotation(text=text, x=xp / W, y=1 - yp / H, xref="paper", yref="paper",
                       showarrow=False, textangle=angle, xanchor="center", yanchor="middle",
                       font=dict(family=family, size=size, color=TXT))

ann("Chloride [mg l<sup>-1</sup>]", 31, 203, 24, -90)
ann("DOC [mg l<sup>-1</sup>]", 31, 628, 24, -90)
ann("Probability", 803, 46, 15, -90)
ann("Residuals [mg l<sup>-1</sup>]", 937, 113, 16)
ann("Probability", 803, 478, 15, -90)
ann("Residuals [mg l<sup>-1</sup>]", 937, 546, 16)

fig.write_html("out.html")
